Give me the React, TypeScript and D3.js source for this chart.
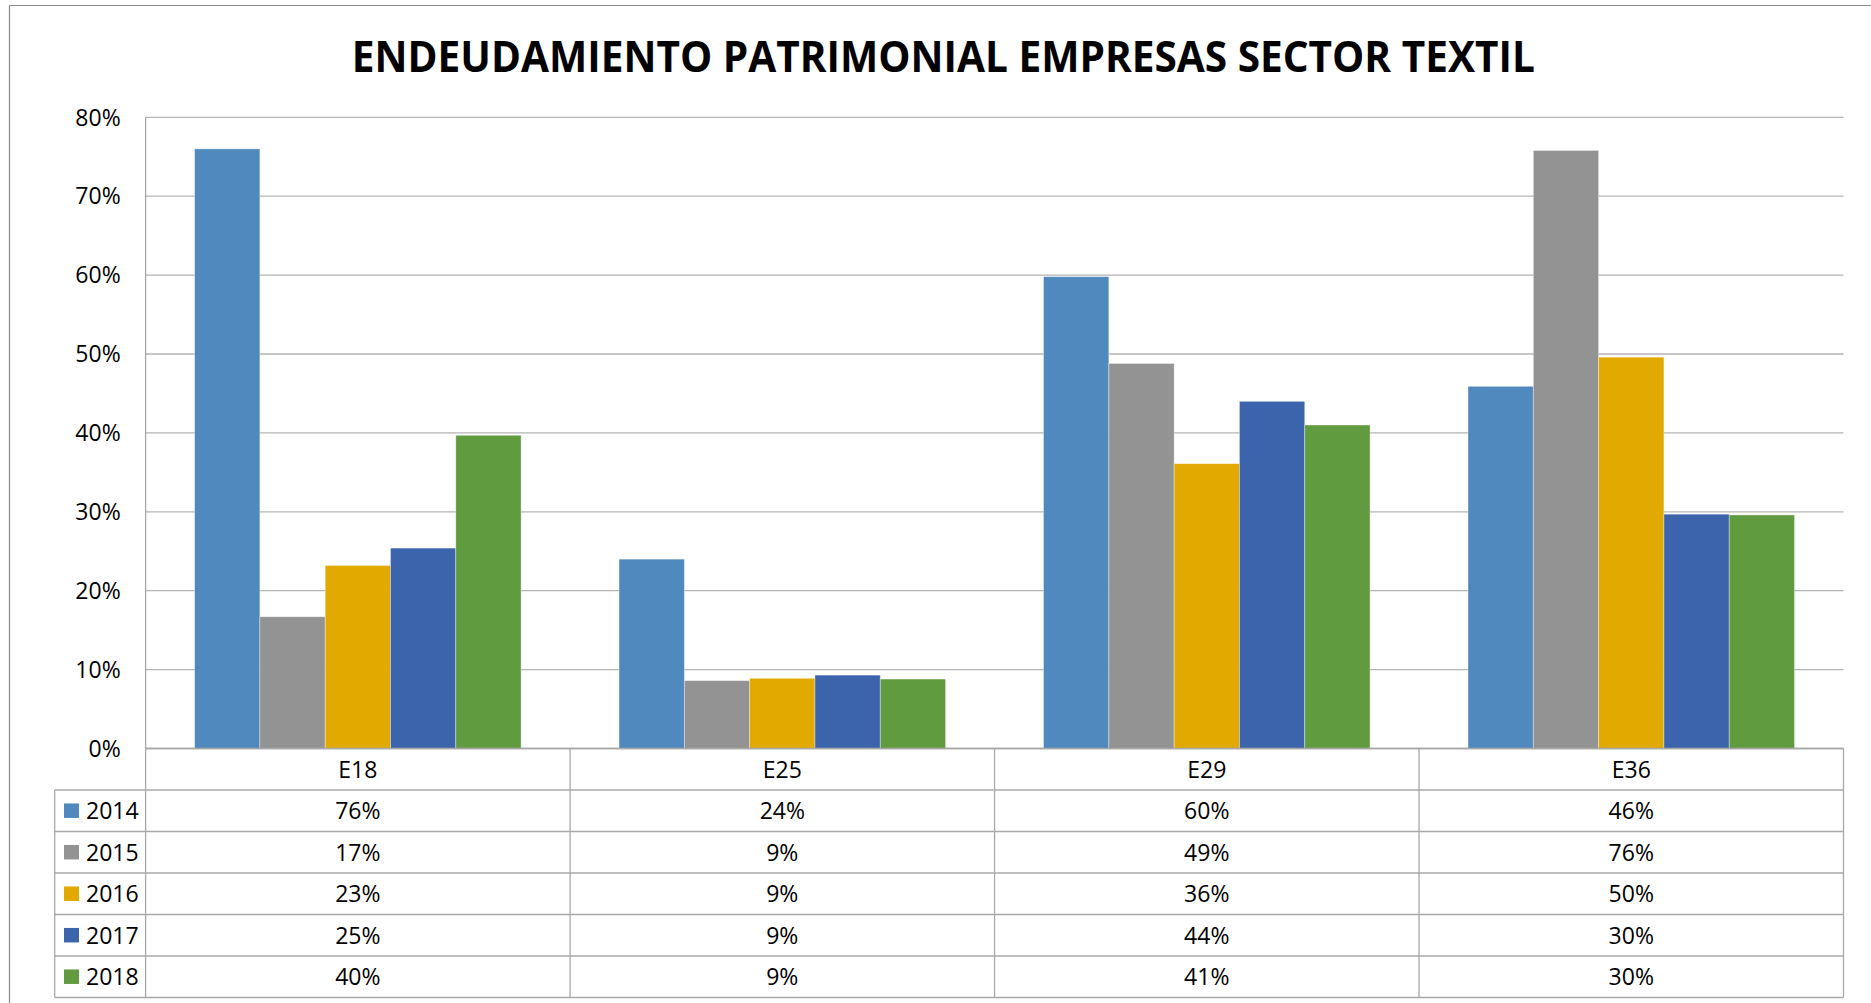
import React from "react";
import * as d3 from "d3";

const title = "ENDEUDAMIENTO PATRIMONIAL EMPRESAS SECTOR TEXTIL";
const categories = ["E18", "E25", "E29", "E36"];
const years = ["2014", "2015", "2016", "2017", "2018"];
const s2014 = [0.76, 0.24, 0.598, 0.459];
const s2015 = [0.167, 0.086, 0.488, 0.758];
const s2016 = [0.232, 0.089, 0.361, 0.496];
const s2017 = [0.254, 0.093, 0.44, 0.297];
const s2018 = [0.397, 0.088, 0.41, 0.296];
const yTicks = [0, 0.1, 0.2, 0.3, 0.4, 0.5, 0.6, 0.7, 0.8];
const colors = ["#4f89bd", "#939393", "#e2aa00", "#3c64ad", "#619b3f"];

const series = [s2014, s2015, s2016, s2017, s2018];

const W = 1871;
const H = 1003;
const plotL = 145.6;
const plotR = 1843.5;
const plotT = 117.3;
const plotB = 748.5;
const legendL = 54.7;
const headerB = 790;
const rowH = 41.5;
const FONT = "'Open Sans', 'DejaVu Sans', sans-serif";

export default function App() {
  const x0 = d3.scaleBand<string>().domain(categories).range([plotL, plotR]).padding(0);
  const bw = x0.bandwidth();
  const x1 = d3
    .scaleBand<string>()
    .domain(years)
    .range([(bw * 0.75) / 6.5, (bw * 5.75) / 6.5])
    .padding(0);
  const y = d3.scaleLinear().domain([0, 0.8]).range([plotB, plotT]);
  const fmt = d3.format(".0%");
  const gridColor = "#b4b4b4";
  const tableColor = "#a8a8a8";
  const tableBottom = headerB + rowH * years.length;

  return (
    <svg
      width={W}
      height={H}
      style={{ position: "absolute", left: 0, top: 0, display: "block", background: "#fff" }}
    >
      {/* outer chart border (left + top visible) */}
      <line x1={9.5} y1={5.5} x2={W + 10} y2={5.5} stroke="#8c8c8c" strokeWidth={1.2} />
      <line x1={9.5} y1={5.5} x2={9.5} y2={H + 10} stroke="#8c8c8c" strokeWidth={1.2} />

      {/* title */}
      <text
        x={(351.7 + 1535) / 2}
        y={71.7}
        textAnchor="middle"
        fontFamily={FONT}
        fontWeight={700}
        fontSize={43}
        textLength={1183}
        lengthAdjust="spacingAndGlyphs"
        fill="#000"
      >
        {title}
      </text>

      {/* gridlines */}
      {yTicks.map((t) => (
        <line
          key={"g" + t}
          x1={plotL}
          x2={plotR}
          y1={y(t)}
          y2={y(t)}
          stroke={t === 0 ? tableColor : gridColor}
          strokeWidth={1.3}
        />
      ))}
      {/* y axis labels */}
      {yTicks.map((t) => (
        <text
          key={"yl" + t}
          x={120.7}
          y={y(t)}
          dy="0.36em"
          textAnchor="end"
          fontFamily={FONT}
          fontSize={23}
          fill="#000"
        >
          {fmt(t)}
        </text>
      ))}
      {/* plot left border */}
      <line x1={plotL} x2={plotL} y1={plotT} y2={plotB} stroke={tableColor} strokeWidth={1.3} />

      {/* bars */}
      {categories.map((c, ci) => (
        <g key={c} transform={`translate(${x0(c)},0)`}>
          {years.map((yr, si) => {
            const v = series[si][ci];
            return (
              <rect
                key={yr}
                x={x1(yr)}
                y={y(v)}
                width={x1.bandwidth()}
                height={y(0) - y(v)}
                fill={colors[si]}
                stroke="rgba(255,255,255,0.45)"
                strokeWidth={0.8}
              />
            );
          })}
        </g>
      ))}

      {/* data table */}
      {/* horizontal lines */}
      <line x1={plotL} x2={plotR} y1={plotB} y2={plotB} stroke={tableColor} strokeWidth={1.3} />
      {years.map((yr, i) => (
        <line
          key={"h" + yr}
          x1={legendL}
          x2={plotR}
          y1={headerB + rowH * i}
          y2={headerB + rowH * i}
          stroke={tableColor}
          strokeWidth={1.3}
        />
      ))}
      <line x1={legendL} x2={plotR} y1={tableBottom} y2={tableBottom} stroke={tableColor} strokeWidth={1.3} />
      {/* vertical lines */}
      <line x1={legendL} x2={legendL} y1={headerB} y2={tableBottom} stroke={tableColor} strokeWidth={1.3} />
      {[...categories.map((c) => x0(c) as number), plotR].map((xv, i) => (
        <line
          key={"v" + i}
          x1={xv}
          x2={xv}
          y1={plotB}
          y2={tableBottom}
          stroke={tableColor}
          strokeWidth={1.3}
        />
      ))}
      {/* category header */}
      {categories.map((c) => (
        <text
          key={"c" + c}
          x={(x0(c) as number) + bw / 2}
          y={(plotB + headerB) / 2}
          dy="0.36em"
          textAnchor="middle"
          fontFamily={FONT}
          fontSize={23}
          fill="#000"
        >
          {c}
        </text>
      ))}
      {/* legend + values */}
      {years.map((yr, si) => {
        const cy = headerB + rowH * si + rowH / 2;
        return (
          <g key={"r" + yr}>
            <rect x={64} y={cy - 7.3} width={15} height={14.5} fill={colors[si]} />
            <text x={86} y={cy} dy="0.36em" fontFamily={FONT} fontSize={23} fill="#000">
              {yr}
            </text>
            {categories.map((c, ci) => (
              <text
                key={c}
                x={(x0(c) as number) + bw / 2}
                y={cy}
                dy="0.36em"
                textAnchor="middle"
                fontFamily={FONT}
                fontSize={23}
                fill="#000"
              >
                {fmt(series[si][ci])}
              </text>
            ))}
          </g>
        );
      })}
    </svg>
  );
}
